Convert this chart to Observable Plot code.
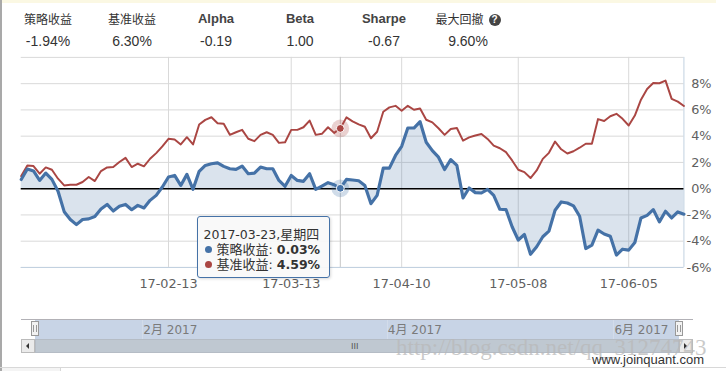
<!DOCTYPE html>
<html><head><meta charset="utf-8">
<script src="https://cdn.jsdelivr.net/npm/d3@7"></script>
<script src="https://cdn.jsdelivr.net/npm/@observablehq/plot@0.6"></script>
<style>
html,body{margin:0;padding:0;background:#fff;}
#root{position:relative;width:726px;height:371px;overflow:hidden;font-family:"Liberation Sans",Arial,"Noto Sans CJK SC",sans-serif;color:#333;}
.abs{position:absolute;}
.stat{position:absolute;width:84px;text-align:center;}
.slab{top:10px;height:18px;line-height:18px;font-size:13px;font-weight:bold;color:#444;}
.slab.cjk{font-weight:normal;font-size:12px;font-family:"Noto Sans CJK SC",sans-serif;color:#333;}
.sval{top:32px;height:18px;line-height:18px;font-size:14px;color:#333;}
.q{display:inline-block;width:12px;height:12px;border-radius:50%;background:#444;color:#fff;font-size:10px;line-height:12px;text-align:center;font-weight:bold;vertical-align:1px;margin-left:5px;font-family:"Liberation Sans",sans-serif;}
.tt{position:absolute;width:133px;height:62px;border:1px solid #4572a7;border-radius:3px;background:rgba(249,249,249,0.92);box-shadow:1px 1px 3px rgba(0,0,0,0.15);font-family:"DejaVu Sans","Noto Sans CJK SC",sans-serif;font-size:12.5px;color:#333;padding:0 0 0 6px;box-sizing:border-box;}
.tt div{height:15px;line-height:15px;white-space:nowrap;}
.tt .l1{margin-top:9px;}
.dotc{display:inline-block;width:7px;height:7px;border-radius:50%;margin:0 5px 0 1px;vertical-align:1px;}
.tt .cj{font-family:"Noto Sans CJK SC",sans-serif;font-size:13px;}
</style></head><body><div id="root"></div>
<script>
// ---- data ----
const dates = [
"2017-01-03","2017-01-04","2017-01-05","2017-01-06","2017-01-09","2017-01-10","2017-01-11","2017-01-12","2017-01-13","2017-01-16","2017-01-17","2017-01-18","2017-01-19","2017-01-20","2017-01-23","2017-01-24","2017-01-25","2017-01-26",
"2017-02-03","2017-02-06","2017-02-07","2017-02-08","2017-02-09","2017-02-10","2017-02-13","2017-02-14","2017-02-15","2017-02-16","2017-02-17","2017-02-20","2017-02-21","2017-02-22","2017-02-23","2017-02-24","2017-02-27","2017-02-28",
"2017-03-01","2017-03-02","2017-03-03","2017-03-06","2017-03-07","2017-03-08","2017-03-09","2017-03-10","2017-03-13","2017-03-14","2017-03-15","2017-03-16","2017-03-17","2017-03-20","2017-03-21","2017-03-22","2017-03-23","2017-03-24","2017-03-27","2017-03-28","2017-03-29","2017-03-30","2017-03-31",
"2017-04-05","2017-04-06","2017-04-07","2017-04-10","2017-04-11","2017-04-12","2017-04-13","2017-04-14","2017-04-17","2017-04-18","2017-04-19","2017-04-20","2017-04-21","2017-04-24","2017-04-25","2017-04-26","2017-04-27","2017-04-28",
"2017-05-02","2017-05-03","2017-05-04","2017-05-05","2017-05-08","2017-05-09","2017-05-10","2017-05-11","2017-05-12","2017-05-15","2017-05-16","2017-05-17","2017-05-18","2017-05-19","2017-05-22","2017-05-23","2017-05-24","2017-05-25","2017-05-26","2017-05-31",
"2017-06-01","2017-06-02","2017-06-05","2017-06-06","2017-06-07","2017-06-08","2017-06-09","2017-06-12","2017-06-13","2017-06-14","2017-06-15","2017-06-16"];
const strategy = [
0.7,1.5,1.35,0.63,1.19,0.71,-0.2,-1.75,-2.35,-2.74,-2.35,-2.3,-2.12,-1.55,-1.2,-1.7,-1.34,-1.2,
-1.6,-1.27,-1.47,-0.89,-0.51,0.13,0.89,1.01,0.25,1.09,-0.05,1.32,1.77,1.9,1.97,1.7,1.52,1.47,
1.72,1.14,1.19,1.65,1.52,1.52,0.63,0.18,1.01,0.63,0.56,1.14,-0.05,0.2,0.46,0.3,0.03,0.71,0.66,0.6,0.25,-1.14,-0.51,
1.57,1.57,2.53,3.23,4.62,4.62,5.1,3.54,2.9,2.4,1.46,2.22,1.77,-0.71,0.05,-0.3,-0.33,-0.05,
-0.51,-1.57,-1.59,-2.9,-3.91,-3.49,-5.0,-4.42,-3.66,-3.23,-1.64,-1.01,-1.09,-1.31,-2.1,-4.56,-4.3,-3.16,-3.45,-3.62,
-5.06,-4.61,-4.68,-4.1,-2.23,-2.03,-1.59,-2.53,-1.72,-2.23,-1.77,-1.94];
const benchmark = [
0.96,1.77,1.72,1.14,1.62,1.44,0.76,0.25,0.3,0.3,0.51,0.89,0.58,1.34,1.62,1.65,2.03,2.35,
1.65,1.9,1.7,2.28,2.71,3.22,3.8,3.75,3.37,3.92,3.37,4.89,5.24,5.44,4.99,4.94,4.1,4.3,
4.48,3.8,3.62,4.1,4.3,4.1,3.49,3.54,4.48,4.48,4.68,5.19,4.1,4.18,4.68,4.25,4.59,5.43,5.13,4.9,4.72,3.84,4.34,
5.86,6.19,6.31,5.93,6.31,6.01,6.11,5.25,5.05,4.6,4.1,4.55,4.62,3.66,3.91,4.05,4.17,3.79,
3.28,3.08,2.78,2.15,1.44,1.26,0.81,1.39,2.27,2.73,3.59,3.0,2.68,2.85,3.12,3.42,3.42,5.3,5.16,5.52,
5.7,5.32,4.81,5.57,6.78,7.59,8.05,8.03,8.23,6.84,6.63,6.3];
const xTickDates = ["2017-02-13","2017-03-13","2017-04-10","2017-05-08","2017-06-05"];
const yLabelTicks = [-6,-4,-2,0,2,4,6,8];
const yGridTicks = [-6,-4,-2,0,2,4,6,8,10];
const statLabels = ["策略收益","基准收益","Alpha","Beta","Sharpe","最大回撤"];
const statValues = ["-1.94%","6.30%","-0.19","1.00","-0.67","9.60%"];
const seriesNames = ["策略收益","基准收益"];
const hoverDate = "2017-03-23";
const hoverWeekday = "星期四";
const navMonthLabels = ["2月 2017","4月 2017","6月 2017"];
const navMonthKeys = ["2017-02","2017-04","2017-06"];

// ---- layout ----
const root = document.getElementById("root");
const BLUE = "#4572a7", RED = "#aa4643";
function div(cls, css, html){const d=document.createElement("div");d.className=cls;d.style.cssText=css||"";if(html!=null)d.innerHTML=html;root.appendChild(d);return d;}

// frame decorations
div("abs","left:0;top:0;width:716px;height:3px;background:#fbf8e3;");
div("abs","left:0;top:0;width:2px;height:371px;background:#a9a9a9;");

// header stats
statLabels.forEach((lab,k)=>{
  const cx = 48 + 84*k;
  const cjk = /[\u4e00-\u9fff]/.test(lab);
  div("stat slab"+(cjk?" cjk":""), `left:${cx-42}px;`, lab + (k===statLabels.length-1?'<span class="q">?</span>':""));
  div("stat sval", `left:${cx-42}px;`, statValues[k]);
});

// main chart
const rows = dates.map((d,i)=>({i, d, s:strategy[i], b:benchmark[i]}));
const n = dates.length-1;
const xIdx = xTickDates.map(d=>dates.indexOf(d));
const hi = dates.indexOf(hoverDate);
const svgTop = 50;
const chart = Plot.plot({
  width: 726, height: 269, marginLeft: 21, marginRight: 33, marginTop: 7, marginBottom: 49,
  x: {domain:[0,n], axis:null},
  y: {domain:[-6,10], axis:null},
  style: {fontFamily:"DejaVu Sans, sans-serif", fontSize:"13px", color:"#606060", background:"transparent", overflow:"visible"},
  marks: [
    Plot.ruleY(yGridTicks, {stroke:"#d8d8d8", strokeOpacity:1}),
    Plot.ruleX(xIdx, {stroke:"#d8d8d8", strokeOpacity:1}),
    Plot.ruleX([hi], {stroke:"#c4c4c4", strokeOpacity:1}),
    Plot.areaY(rows, {x:"i", y1:0, y2:"s", fill:BLUE, fillOpacity:0.2}),
    Plot.ruleY([-6], {stroke:"#c0d0e0", strokeOpacity:1}),
    Plot.ruleX([n], {stroke:"#c0d0e0", strokeOpacity:1}),
    Plot.ruleY([0], {stroke:"#000", strokeWidth:1.5, strokeOpacity:1}),
    Plot.lineY(rows, {x:"i", y:"b", stroke:RED, strokeWidth:2}),
    Plot.lineY(rows, {x:"i", y:"s", stroke:BLUE, strokeWidth:3.2}),
    Plot.dot([rows[hi]], {x:"i", y:"b", r:9, fill:RED, fillOpacity:0.25, stroke:null}),
    Plot.dot([rows[hi]], {x:"i", y:"s", r:9, fill:BLUE, fillOpacity:0.25, stroke:null}),
    Plot.dot([rows[hi]], {x:"i", y:"b", r:4, fill:RED, stroke:"#fff", strokeWidth:1}),
    Plot.dot([rows[hi]], {x:"i", y:"s", r:4, fill:BLUE, stroke:"#fff", strokeWidth:1}),
    Plot.text(xIdx, {x:d=>d, frameAnchor:"bottom", lineAnchor:"middle", dy:17, text:i=>dates[i].slice(2), fill:"#606060"}),
    Plot.text(yLabelTicks, {y:d=>d, frameAnchor:"right", lineAnchor:"middle", textAnchor:"end", dx:28, text:d=>d+"%", fill:"#606060"})
  ]
});
const clip = div("abs", `left:0;top:${svgTop}px;width:716px;height:269px;overflow:hidden;`);
clip.appendChild(chart);

// tooltip
const sx = chart.scale("x"), sy = chart.scale("y");
const px = sx.apply(hi), py = svgTop + sy.apply(strategy[hi]);
const tt = div("tt", `left:${px-148}px;top:${py+26}px;`);
const fmt = v => v.toFixed(2)+"%";
tt.innerHTML = `<div class="l1">${hoverDate},<span class="cj">${hoverWeekday}</span></div>`+
  `<div><span class="dotc" style="background:${BLUE}"></span><span class="cj">${seriesNames[0]}</span>: <b>${fmt(strategy[hi])}</b></div>`+
  `<div><span class="dotc" style="background:${RED}"></span><span class="cj">${seriesNames[1]}</span>: <b>${fmt(benchmark[hi])}</b></div>`;

// navigator
const navX = d3.scaleLinear([0,n],[35,679]);
div("abs","left:21px;top:319px;width:672px;height:1px;background:#b2b1b6;");
div("abs","left:35px;top:320px;width:644px;height:19px;background:#c8d4e6;");
navMonthKeys.forEach((m,k)=>{
  const idx = dates.findIndex(d=>d.startsWith(m));
  const x = navX(idx);
  div("abs",`left:${x}px;top:320px;width:1px;height:19px;background:#d3dcea;`);
  div("abs",`left:${x+1}px;top:321px;height:18px;line-height:18px;font-family:'DejaVu Sans','Noto Sans CJK SC',sans-serif;font-size:12px;color:#7a7a7a;white-space:nowrap;`, navMonthLabels[k]);
});
// scrollbar
div("abs","left:21px;top:339px;width:672px;height:14px;background:#eeeeee;box-sizing:border-box;border-bottom:1px solid #bbb;");
div("abs","left:35px;top:339px;width:644px;height:14px;background:#bfc8d1;box-sizing:border-box;border:1px solid #b5bcc5;");
div("abs","left:351px;top:342px;height:9px;line-height:9px;font-size:9px;color:#555;font-family:'Liberation Sans',sans-serif;","III");
[21,679].forEach((x,k)=>{
  div("abs",`left:${x}px;top:339px;width:14px;height:14px;background:#ebebeb;box-sizing:border-box;border:1px solid #bbb;`);
  div("abs",`left:${x+5}px;top:343px;width:0;height:0;border-top:3px solid transparent;border-bottom:3px solid transparent;${k===0?'border-right':'border-left'}:3px solid #333;`);
});
// handles
[35,679].forEach(x=>{
  div("abs",`left:${x-4}px;top:321px;width:8px;height:15px;background:#f2f2f2;box-sizing:border-box;border:1px solid #999;`);
  div("abs",`left:${x-2}px;top:325px;width:1px;height:7px;background:#999;`);
  div("abs",`left:${x+1}px;top:325px;width:1px;height:7px;background:#999;`);
});
// bottom page edge
div("abs","left:0;top:367px;width:726px;height:1px;background:#d8d8d8;");
div("abs","left:2px;top:368px;width:58px;height:3px;background:#f4f4f4;border-right:1px solid #d8d8d8;");
// watermarks
div("abs","left:396px;top:334px;height:28px;line-height:28px;font-family:'Liberation Serif',serif;font-size:23px;color:rgba(185,185,185,0.75);white-space:nowrap;","http://blog.csdn.net/qq_31274743");
div("abs","left:592px;top:352px;height:16px;line-height:16px;font-family:'Liberation Sans',sans-serif;font-size:13px;color:#333;white-space:nowrap;","www.joinquant.com");
</script></body></html>
